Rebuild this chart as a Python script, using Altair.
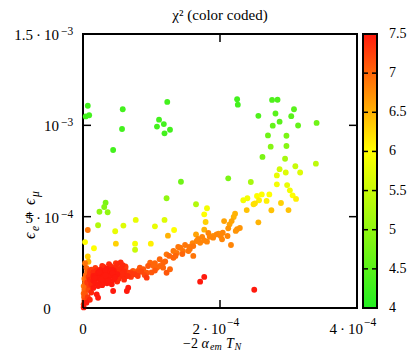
import altair as alt
import pandas as pd

# ---------------- data (x and y in units of 1e-4) ----------------
UNIT = 1e-4

# scattered points above the main band
upper_x = [0.07, 0.04, 0.09, 0.58, 0.57, 0.44, 1.23, 1.11, 1.18, 1.08, 1.27, 1.19, 2.25, 2.26, 2.76, 2.84,
           3.08, 2.56, 2.81, 3.04, 2.87, 2.77, 3.14, 3.41, 2.70, 2.97, 2.74, 2.97, 2.62, 2.95, 3.40, 3.10,
           2.87, 3.17, 2.96, 2.83, 2.12, 2.45, 2.83, 2.98, 3.02, 3.06, 3.11, 2.34, 2.40, 2.54, 2.61, 2.72,
           2.57, 2.68, 2.51, 2.49, 2.89, 2.39, 2.75, 3.00, 2.56, 2.22, 2.20, 2.17, 2.06, 2.14, 2.12, 2.25,
           2.23, 2.04, 2.01, 2.11, 2.03, 2.16, 2.29, 2.50, 1.43, 1.22, 0.33, 0.31, 0.24, 0.36, 1.65, 1.81,
           1.77, 1.79, 0.22, 0.59, 0.77, 0.47, 1.05, 1.19, 1.33, 1.24, 0.07, 0.03, 0.48, 0.76, 0.76, 0.99,
           1.65, 1.77, 1.90, 1.98, 0.16, 0.07, 0.08]
upper_y = [11.07, 10.49, 10.55, 10.88, 9.80, 8.65, 11.28, 10.31, 10.07, 9.93, 9.76, 9.56, 11.43, 11.13, 11.39, 11.40,
           10.88, 10.52, 10.65, 10.50, 10.20, 9.98, 9.99, 10.13, 9.45, 9.43, 8.83, 8.87, 8.27, 8.17, 7.90, 7.76,
           7.60, 7.42, 7.42, 7.26, 7.10, 6.90, 6.77, 6.73, 6.44, 6.17, 5.97, 5.90, 6.01, 6.13, 6.22, 6.22,
           5.90, 5.86, 5.73, 5.68, 5.75, 5.36, 5.35, 5.36, 4.69, 5.16, 4.98, 4.76, 4.76, 4.58, 4.36, 4.31,
           4.22, 4.12, 3.94, 3.94, 3.76, 3.45, 4.38, 1.00, 6.91, 6.01, 5.76, 5.53, 5.27, 5.24, 5.68, 5.46,
           5.13, 4.71, 4.53, 4.51, 4.82, 4.20, 4.47, 4.82, 4.27, 3.96, 4.27, 3.61, 3.52, 3.52, 3.19, 3.52,
           4.03, 4.29, 3.94, 4.07, 3.27, 2.82, 2.53]
upper_chi2 = [4.3, 4.3, 4.3, 4.3, 4.3, 4.3, 4.3, 4.3, 4.3, 4.3, 4.3, 4.3, 4.3, 4.3, 4.4, 4.4,
              4.5, 4.4, 4.5, 4.5, 4.5, 4.6, 4.6, 4.7, 4.7, 4.8, 4.9, 4.9, 4.8, 5.2, 5.4, 5.5,
              5.6, 5.7, 5.7, 5.8, 4.8, 5.2, 5.9, 5.8, 5.9, 6.0, 6.1, 5.9, 5.9, 6.0, 6.0, 6.0,
              6.1, 6.1, 6.2, 6.2, 6.3, 6.4, 6.4, 6.4, 6.5, 6.5, 6.5, 6.6, 6.6, 6.6, 6.7, 6.7,
              6.7, 6.8, 6.8, 6.8, 6.8, 6.8, 6.7, 7.5, 4.7, 5.0, 4.8, 4.9, 5.0, 5.0, 5.3, 5.9,
              6.0, 6.3, 5.3, 5.7, 5.8, 5.8, 5.8, 5.7, 6.0, 6.5, 6.9, 6.0, 6.3, 5.9, 5.5, 6.1,
              6.6, 6.5, 6.7, 6.7, 6.0, 6.3, 6.5]

# the orange band (and a few isolated red points below it)
band_x = [1.66, 1.71, 1.81, 1.90, 1.95, 1.61, 1.54, 1.46, 1.42, 1.32, 1.32, 1.22, 1.17, 1.12, 1.08, 0.98,
          0.93, 0.83, 0.73, 0.73, 0.64, 1.12, 1.17, 1.22, 1.27, 0.93, 1.56, 1.68, 1.74, 1.83, 1.49, 1.37,
          1.26, 1.05, 0.88, 0.80, 1.39, 1.61, 1.03, 1.45, 1.55, 0.95, 0.85, 0.70, 1.35, 1.20, 1.60, 1.77,
          1.85, 1.77, 1.71, 0.66, 0.64, 0.44, 0.42, 0.20, 0.22, 0.05]
band_y = [3.67, 3.57, 3.63, 3.85, 4.03, 3.39, 3.12, 3.12, 3.30, 3.12, 2.75, 2.94, 2.48, 2.67, 2.21, 2.48,
          1.93, 2.21, 2.03, 1.84, 1.93, 2.30, 2.21, 1.93, 2.12, 1.66, 3.23, 3.78, 3.89, 4.11, 3.45, 3.01,
          2.85, 2.46, 2.13, 2.03, 3.34, 2.85, 2.30, 2.95, 3.35, 2.30, 2.00, 1.95, 2.85, 2.55, 3.55, 3.70,
          3.90, 1.70, 1.44, 1.11, 0.93, 0.93, 1.30, 0.75, 0.56, 0.29]
band_chi2 = [6.8, 6.8, 6.8, 6.8, 6.8, 6.9, 6.9, 6.9, 6.9, 6.9, 7.0, 6.9, 7.0, 7.0, 7.0, 7.0,
             7.1, 7.1, 7.1, 7.2, 7.2, 7.0, 7.0, 7.1, 7.0, 7.3, 6.9, 6.8, 6.8, 6.8, 6.9, 6.9,
             7.0, 7.0, 7.1, 7.1, 6.9, 6.9, 7.0, 7.0, 6.9, 7.1, 7.1, 7.2, 7.0, 7.0, 6.8, 6.8,
             6.8, 7.5, 7.5, 7.5, 7.5, 7.5, 7.5, 7.5, 7.5, 7.5]

# dense red cluster near the origin
cluster_x = [0.30, 0.40, 0.50, 0.55, 0.58, 0.62, 0.45, 0.35, 0.25, 0.20, 0.15, 0.10, 0.12,
             0.15, 0.20, 0.25, 0.30, 0.35, 0.40, 0.45, 0.50, 0.55, 0.60, 0.65, 0.70, 0.75, 0.80, 0.85,
             0.10, 0.15, 0.20, 0.25, 0.30, 0.35, 0.40, 0.45, 0.50, 0.55, 0.60, 0.65, 0.70, 0.80, 0.90, 1.00, 1.05,
             0.12, 0.18, 0.25, 0.30, 0.38, 0.45, 0.52, 0.22, 0.28, 0.15, 0.35, 0.50, 0.60,
             0.18, 0.28, 0.38, 0.48, 0.22, 0.32, 0.42, 0.08, 0.06,
             0.01, 0.01, 0.02, 0.015, 0.03, 0.02, 0.04, 0.03, 0.05, 0.04, 0.06, 0.05, 0.03, 0.08, 0.07,
             0.10, 0.05, 0.12, 0.02, 0.01, 0.01, 0.09, 0.10,
             0.27, 0.33, 0.43, 0.53, 0.17, 0.37, 0.47, 0.57, 0.67, 0.24, 0.41, 0.62, 0.13]
cluster_y = [2.25, 2.30, 2.40, 2.50, 2.35, 2.20, 2.20, 2.15, 2.10, 2.05, 1.95, 1.90, 2.10,
             1.75, 1.80, 1.85, 1.95, 1.90, 2.00, 2.05, 2.10, 2.15, 2.00, 1.95, 1.90, 1.85, 1.95, 2.00,
             1.55, 1.50, 1.60, 1.65, 1.70, 1.65, 1.75, 1.80, 1.85, 1.75, 1.70, 1.75, 1.70, 1.75, 1.80, 1.95, 2.05,
             1.30, 1.35, 1.40, 1.45, 1.50, 1.55, 1.60, 1.20, 1.25, 1.10, 1.35, 1.45, 1.55,
             2.20, 2.30, 2.40, 2.45, 1.95, 2.05, 2.10, 1.70, 1.40,
             0.03, 0.20, 0.40, 0.60, 0.80, 1.00, 1.20, 1.40, 1.60, 1.80, 2.00, 2.20, 2.45, 1.00, 0.60,
             0.45, 0.35, 0.85, 1.60, 1.20, 0.80, 1.25, 2.05,
             1.58, 1.78, 1.92, 1.97, 1.65, 1.48, 1.68, 1.88, 1.82, 1.98, 2.22, 2.28, 1.42]
cluster_chi2 = [7.4, 7.4, 7.4, 7.4, 7.4, 7.3, 7.4, 7.5, 7.5, 7.4, 7.4, 7.3, 7.3,
                7.5, 7.5, 7.5, 7.5, 7.5, 7.5, 7.5, 7.4, 7.4, 7.4, 7.3, 7.3, 7.3, 7.2, 7.2,
                7.4, 7.5, 7.5, 7.5, 7.5, 7.5, 7.5, 7.5, 7.5, 7.4, 7.4, 7.4, 7.3, 7.3, 7.2, 7.1, 7.1,
                7.4, 7.5, 7.5, 7.5, 7.5, 7.5, 7.4, 7.5, 7.5, 7.5, 7.5, 7.4, 7.4,
                7.3, 7.4, 7.4, 7.3, 7.5, 7.5, 7.5, 7.3, 7.3,
                7.5, 7.3, 7.2, 7.1, 7.1, 7.0, 7.0, 7.0, 7.0, 7.0, 7.0, 7.0, 6.9, 7.2, 7.3,
                7.4, 7.2, 7.4, 6.9, 6.9, 7.0, 7.3, 7.2,
                7.5, 7.5, 7.5, 7.4, 7.5, 7.5, 7.5, 7.4, 7.3, 7.5, 7.4, 7.3, 7.4]

# axes / colour bar
X_DOMAIN = [0, 4e-4]
Y_DOMAIN = [0, 1.5e-3]
x_tick_values = [0, 2e-4, 4e-4]
x_tick_base = ["0", "2\u2009\u00b7\u200910", "4\u2009\u00b7\u200910"]
x_tick_sup = ["", "\u22124", "\u22124"]
y_tick_values = [0, 5e-4, 1e-3, 1.5e-3]
y_tick_base = ["0", "5\u2009\u00b7\u200910", "10", "1.5\u2009\u00b7\u200910"]
y_tick_sup = ["", "\u22124", "\u22123", "\u22123"]
CB_DOMAIN = [4, 6, 7.5]
CB_COLORS = ["#22ee22", "#ffff00", "#ff1a0d"]
cb_tick_values = [4.5, 5, 5.5, 6, 6.5, 7]
cb_label_values = [4, 4.5, 5, 5.5, 6, 6.5, 7, 7.5]
cb_label_text = ["4", "4.5", "5", "5.5", "6", "6.5", "7", "7.5"]

FONT = "Liberation Serif"
W = H = 274

# ---------------- build ----------------
pts = pd.DataFrame({
    "x": [v * UNIT for v in upper_x + band_x + cluster_x],
    "y": [v * UNIT for v in upper_y + band_y + cluster_y],
    "chi2": upper_chi2 + band_chi2 + cluster_chi2,
})

xs = alt.Scale(domain=X_DOMAIN, nice=False, zero=False)
ys = alt.Scale(domain=Y_DOMAIN, nice=False, zero=False)
cs = alt.Scale(domain=CB_DOMAIN, range=CB_COLORS, interpolate="rgb")
cbs = alt.Scale(domain=[CB_DOMAIN[0], CB_DOMAIN[-1]], nice=False, zero=False)

points = alt.Chart(pts).mark_circle(size=34, opacity=1).encode(
    x=alt.X("x:Q", scale=xs, axis=None),
    y=alt.Y("y:Q", scale=ys, axis=None),
    color=alt.Color("chi2:Q", scale=cs, legend=None),
    order=alt.Order("chi2:Q"),
)

xt = pd.DataFrame({"v": x_tick_values, "base": x_tick_base, "sup": x_tick_sup})
yt = pd.DataFrame({"v": y_tick_values, "base": y_tick_base, "sup": y_tick_sup})

TL = 8
rule = dict(color="black", strokeWidth=1.5)
xtick_b = alt.Chart(xt).mark_rule(**rule).encode(x=alt.X("v:Q", scale=xs, axis=None), y=alt.value(H), y2=alt.value(H - TL))
xtick_t = alt.Chart(xt).mark_rule(**rule).encode(x=alt.X("v:Q", scale=xs, axis=None), y=alt.value(0), y2=alt.value(TL))
ytick_l = alt.Chart(yt).mark_rule(**rule).encode(y=alt.Y("v:Q", scale=ys, axis=None), x=alt.value(0), x2=alt.value(TL))
ytick_r = alt.Chart(yt).mark_rule(**rule).encode(y=alt.Y("v:Q", scale=ys, axis=None), x=alt.value(W - TL), x2=alt.value(W))

txt = dict(font=FONT, color="black")
# x tick labels
xl_zero = alt.Chart(xt).transform_filter("datum.sup == ''").mark_text(fontSize=15, align="center", **txt).encode(
    x=alt.X("v:Q", scale=xs, axis=None), y=alt.value(H + 21), text="base:N")
xl_base = alt.Chart(xt).transform_filter("datum.sup != ''").mark_text(fontSize=15, align="right", dx=6, **txt).encode(
    x=alt.X("v:Q", scale=xs, axis=None), y=alt.value(H + 21), text="base:N")
xl_sup = alt.Chart(xt).transform_filter("datum.sup != ''").mark_text(fontSize=11.5, align="left", dx=7, **txt).encode(
    x=alt.X("v:Q", scale=xs, axis=None), y=alt.value(H + 15), text="sup:N")
# y tick labels
yl_zero = alt.Chart(yt).transform_filter("datum.sup == ''").mark_text(fontSize=15, align="center", dy=6, baseline="alphabetic", **txt).encode(
    y=alt.Y("v:Q", scale=ys, axis=None), x=alt.value(-36), text="base:N")
yl_base = alt.Chart(yt).transform_filter("datum.sup != ''").mark_text(fontSize=15, align="right", dy=6, baseline="alphabetic", **txt).encode(
    y=alt.Y("v:Q", scale=ys, axis=None), x=alt.value(-24), text="base:N")
yl_sup = alt.Chart(yt).transform_filter("datum.sup != ''").mark_text(fontSize=11.5, align="left", dy=1, baseline="alphabetic", **txt).encode(
    y=alt.Y("v:Q", scale=ys, axis=None), x=alt.value(-22), text="sup:N")


def label(text, x, y, size=15, italic=False, align="left", angle=0):
    return alt.Chart(alt.Data(values=[{"t": text}])).mark_text(
        fontSize=size, fontStyle="italic" if italic else "normal", align=align,
        baseline="alphabetic", angle=angle, **txt
    ).encode(x=alt.value(x), y=alt.value(y), text="t:N")


title = label("\u03c7\u00b2 (color coded)", W / 2, -14, size=15, align="center")
# x title: -2 alpha_em T_N
xtitle = [
    label("\u22122", 100, 314, size=14),
    label("\u03b1", 118.5, 314, size=14, italic=True),
    label("em", 127, 315.5, size=10, italic=True),
    label("T", 143, 314, size=14, italic=True),
    label("N", 151.5, 315.5, size=10, italic=True),
]
# y title: eps_e + eps_mu (rotated, reading upwards)
YX = -48
ytitle = [
    label("\u03f5", YX, 205, size=16, italic=True, angle=270),
    label("e", YX + 4, 197, size=11.5, italic=True, angle=270),
    label("+", YX, 186, size=16, angle=270),
    label("\u03f5", YX, 171, size=16, italic=True, angle=270),
    label("\u03bc", YX + 4, 163, size=11.5, italic=True, angle=270),
]

main = alt.layer(points, xtick_b, xtick_t, ytick_l, ytick_r, xl_zero, xl_base, xl_sup,
                 yl_zero, yl_base, yl_sup, title, *xtitle, *ytitle)

# colour bar
CBX0, CBX1 = 280, 294
grad = {
    "gradient": "linear", "x1": 0, "y1": 1, "x2": 0, "y2": 0,
    "stops": [{"offset": (d - CB_DOMAIN[0]) / (CB_DOMAIN[-1] - CB_DOMAIN[0]), "color": c}
              for d, c in zip(CB_DOMAIN, CB_COLORS)],
}
cb_rect = alt.Chart(alt.Data(values=[{"a": 1}])).mark_rect(fill=grad, stroke="black", strokeWidth=2).encode(
    x=alt.value(CBX0), x2=alt.value(CBX1), y=alt.value(0), y2=alt.value(H))
cbt = pd.DataFrame({"v": cb_tick_values})
cb_tl = alt.Chart(cbt).mark_rule(color="black", strokeWidth=1.5).encode(
    y=alt.Y("v:Q", scale=cbs, axis=None), x=alt.value(CBX0), x2=alt.value(CBX0 + 5))
cb_tr = alt.Chart(cbt).mark_rule(color="black", strokeWidth=1.5).encode(
    y=alt.Y("v:Q", scale=cbs, axis=None), x=alt.value(CBX1 - 5), x2=alt.value(CBX1))
cbl = pd.DataFrame({"v": cb_label_values, "t": cb_label_text})
cb_lab = alt.Chart(cbl).mark_text(fontSize=14, align="left", baseline="middle", **txt).encode(
    y=alt.Y("v:Q", scale=cbs, axis=None), x=alt.value(306), text="t:N")
cbar = alt.layer(cb_rect, cb_tl, cb_tr, cb_lab)

chart = alt.layer(main, cbar).resolve_scale(y="independent").properties(
    width=W, height=H,
    autosize=alt.AutoSizeParams(type="none"),
    padding={"left": 75, "top": 26, "right": 50, "bottom": 44},
).configure_view(stroke="black", strokeWidth=2)

chart.save("out.html", embed_options={"renderer": "svg", "actions": False})
